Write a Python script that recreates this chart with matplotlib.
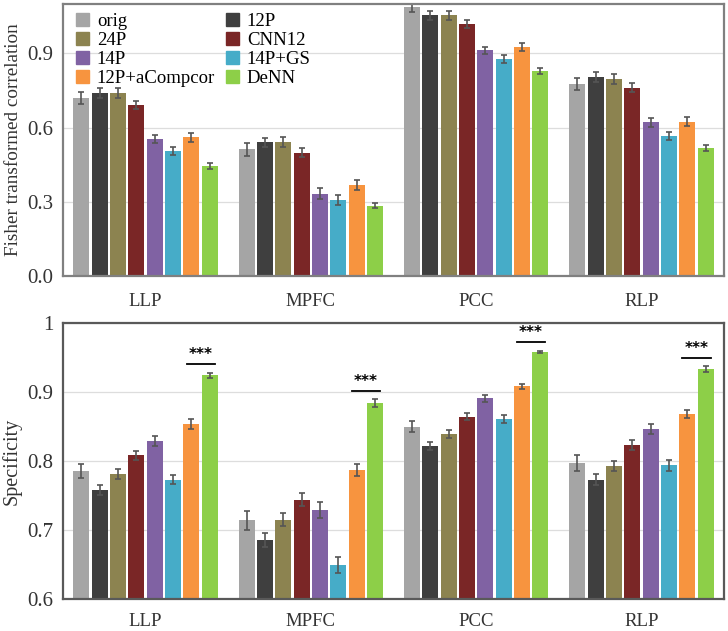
import numpy as np
import matplotlib
matplotlib.use('Agg')
import matplotlib.pyplot as plt
from matplotlib.patches import Patch

plt.rcParams['font.family'] = ['Liberation Serif', 'DejaVu Serif']

regions = ['LLP', 'MPFC', 'PCC', 'RLP']
methods = ['orig', '12P', '24P', 'CNN12', '14P', '14P+GS', '12P+aCompcor', 'DeNN']
colors = ['#a5a5a5', '#3f3f3f', '#8c8350', '#7a2626', '#8062a3', '#46acc8', '#f7943f', '#8dcf48']

# Fisher transformed correlation, rows = methods, cols = regions
fisher = [
    [0.720, 0.512, 1.089, 0.776],
    [0.741, 0.540, 1.054, 0.803],
    [0.741, 0.542, 1.054, 0.795],
    [0.692, 0.499, 1.020, 0.762],
    [0.553, 0.332, 0.912, 0.621],
    [0.505, 0.308, 0.876, 0.565],
    [0.561, 0.369, 0.926, 0.624],
    [0.446, 0.285, 0.830, 0.516],
]
fisher_err = [
    [0.025, 0.025, 0.020, 0.025],
    [0.020, 0.020, 0.018, 0.020],
    [0.020, 0.020, 0.018, 0.020],
    [0.017, 0.017, 0.016, 0.017],
    [0.017, 0.022, 0.016, 0.017],
    [0.016, 0.020, 0.016, 0.017],
    [0.018, 0.020, 0.016, 0.017],
    [0.012, 0.012, 0.012, 0.012],
]

# Specificity
spec = [
    [0.786, 0.714, 0.850, 0.797],
    [0.758, 0.686, 0.822, 0.773],
    [0.781, 0.715, 0.839, 0.793],
    [0.808, 0.744, 0.864, 0.823],
    [0.829, 0.729, 0.891, 0.846],
    [0.773, 0.649, 0.861, 0.794],
    [0.854, 0.787, 0.908, 0.868],
    [0.924, 0.884, 0.958, 0.933],
]
spec_err = [
    [0.010, 0.014, 0.008, 0.011],
    [0.007, 0.010, 0.006, 0.008],
    [0.007, 0.009, 0.006, 0.007],
    [0.007, 0.009, 0.005, 0.007],
    [0.007, 0.012, 0.005, 0.007],
    [0.007, 0.012, 0.006, 0.008],
    [0.007, 0.009, 0.004, 0.006],
    [0.004, 0.006, 0.002, 0.004],
]
sig_label = '***'

fig = plt.figure(figsize=(7.28, 6.31), dpi=100)
ax1 = fig.add_axes([63/728, 1-276/631, 661/728, 272/631])
ax2 = fig.add_axes([63/728, 1-599/631, 661/728, 276/631])

x = np.arange(len(regions))
step = 0.111
width = 0.097
offsets = (np.arange(len(methods)) - 3.5) * step


def draw(ax, vals, errs, xpad):
    for i in range(len(methods)):
        ax.bar(x + offsets[i], vals[i], width, color=colors[i], zorder=2,
               yerr=errs[i], error_kw=dict(ecolor='#555555', elinewidth=1.2,
                                            capsize=2.5, capthick=1.2))
    ax.set_xlim(-0.5, 3.5)
    ax.set_xticks(x)
    ax.set_xticklabels(regions, fontsize=13.5)
    ax.tick_params(axis='y', length=0, labelsize=15, pad=7, labelcolor='#333333')
    ax.tick_params(axis='x', length=0, pad=xpad, labelcolor='#333333')
    ax.grid(axis='y', color='#dddddd', linewidth=0.9, zorder=0)
    ax.set_axisbelow(True)


draw(ax1, fisher, fisher_err, 12)
ax1.set_ylim(0, 1.1)
ax1.set_yticks([0.0, 0.3, 0.6, 0.9])
ax1.set_yticklabels(['0.0', '0.3', '0.6', '0.9'])
ax1.set_ylabel('Fisher transformed correlation', fontsize=13.8, color='#333333', labelpad=4)
for s in ax1.spines.values():
    s.set_color('#808080')
    s.set_linewidth(1.6)

order = [0, 2, 4, 6, 1, 3, 5, 7]
handles = [Patch(color=colors[i], label=methods[i]) for i in order]
ax1.legend(handles=handles, ncol=2, loc='upper left', frameon=False,
           fontsize=13.5, handlelength=0.7, handleheight=0.7, handletextpad=0.4,
           columnspacing=0.6, labelspacing=0.1, borderaxespad=0.3,
           bbox_to_anchor=(0.0, 1.015))

draw(ax2, spec, spec_err, 10)
ax2.set_ylim(0.6, 1.0)
ax2.set_yticks([0.6, 0.7, 0.8, 0.9, 1.0])
ax2.set_yticklabels(['0.6', '0.7', '0.8', '0.9', '1'])
ax2.set_ylabel('Specificity', fontsize=14.5, color='#333333', labelpad=4)
for s in ax2.spines.values():
    s.set_color('#595959')
    s.set_linewidth(1.6)

for j in range(len(regions)):
    top = spec[7][j] + spec_err[7][j]
    x0 = x[j] + offsets[6] - 0.03
    x1 = x[j] + offsets[7] + 0.03
    ax2.plot([x0, x1], [top + 0.012, top + 0.012], color='black', lw=1.3)
    ax2.text((x0 + x1) / 2, top + 0.015, sig_label, ha='center', va='bottom',
             fontsize=11, fontweight='bold', family=['DejaVu Sans'])

fig.savefig('out.png', dpi=100)
